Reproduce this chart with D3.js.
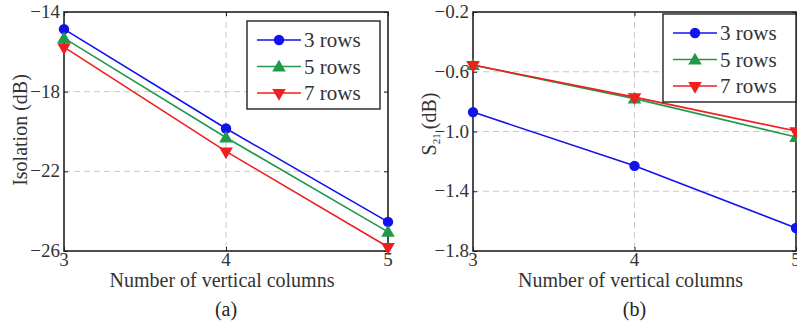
<!DOCTYPE html>
<html>
<head>
<meta charset="utf-8">
<script src="https://cdn.jsdelivr.net/npm/d3@7/dist/d3.min.js"></script>
<style>
  body { margin: 0; background: #fff; }
  svg { display: block; }
</style>
</head>
<body>
<svg id="chart" width="797" height="322">
  <text id="cap-a" font-family="Liberation Serif" font-size="20" fill="#222" text-anchor="middle">(a)</text>
  <text id="cap-b" font-family="Liberation Serif" font-size="20" fill="#222" text-anchor="middle">(b)</text>
</svg>
<script>
// columns on the x axis
const columns = [3, 4, 5];
const seriesNames = ['3 rows', '5 rows', '7 rows'];

// (a) isolation in dB
const isolation3 = [-14.86, -19.85, -24.54];
const isolation5 = [-15.31, -20.3, -25.04];
const isolation7 = [-15.76, -21.0, -25.8];
const isolationTicks = [-14, -18, -22, -26];

// (b) S21 in dB
const s21Rows3 = [-0.87, -1.23, -1.646];
const s21Rows5 = [-0.555, -0.78, -1.037];
const s21Rows7 = [-0.555, -0.77, -0.997];
const s21Ticks = [-0.2, -0.6, -1.0, -1.4, -1.8];

const colors = ['#1212f0', '#22994a', '#f01e1e'];
const symbols = ['circle', 'up', 'down'];
const FONT = 'Liberation Serif';

const svg = d3.select('#chart');

function markerPath(kind) {
  if (kind === 'circle') return d3.symbol(d3.symbolCircle, 85)();
  return d3.symbol(d3.symbolTriangle, 80)();
}

function drawMarker(g, kind, color, x, y) {
  g.append('path')
    .attr('d', markerPath(kind))
    .attr('fill', color)
    .attr('transform', `translate(${x},${y})` + (kind === 'down' ? ' rotate(180)' : (kind === 'up' ? ' translate(0,1)' : '')));
}

function drawPanel(opts) {
  const left = opts.left, right = opts.right, top = 12, bottom = 251;
  const x = d3.scaleLinear().domain([3, 5]).range([left, right]);
  const y = d3.scaleLinear().domain(opts.yDomain).range([top, bottom]);
  const g = svg.append('g');

  // grid
  g.selectAll('.hgrid')
    .data(opts.yTicks.slice(1, -1))
    .enter().append('line')
    .attr('x1', left).attr('x2', right)
    .attr('y1', d => y(d)).attr('y2', d => y(d))
    .attr('stroke', '#c8c8c8').attr('stroke-dasharray', '6,4');
  g.append('line')
    .attr('x1', x(4)).attr('x2', x(4))
    .attr('y1', top).attr('y2', bottom)
    .attr('stroke', '#c8c8c8').attr('stroke-dasharray', '6,4');

  // inner tick marks
  const yAxisL = d3.axisRight(y).tickValues(opts.yTicks).tickSize(4).tickFormat('');
  const yAxisR = d3.axisLeft(y).tickValues(opts.yTicks).tickSize(4).tickFormat('');
  const xAxisB = d3.axisTop(x).tickValues(columns).tickSize(4).tickFormat('');
  const xAxisT = d3.axisBottom(x).tickValues(columns).tickSize(4).tickFormat('');
  [[yAxisL, `translate(${left},0)`], [yAxisR, `translate(${right},0)`],
   [xAxisB, `translate(0,${bottom})`], [xAxisT, `translate(0,${top})`]].forEach(([ax, tr]) => {
    const a = g.append('g').attr('transform', tr).call(ax);
    a.select('.domain').remove();
    a.selectAll('line').attr('stroke', '#222');
  });

  // frame
  g.append('rect')
    .attr('x', left).attr('y', top)
    .attr('width', right - left).attr('height', bottom - top)
    .attr('fill', 'none').attr('stroke', '#222').attr('stroke-width', 1.6);

  // tick labels
  g.selectAll('.ylab')
    .data(opts.yTicks)
    .enter().append('text')
    .attr('x', left - 4).attr('y', d => y(d) + 6)
    .attr('text-anchor', 'end')
    .attr('font-family', FONT)
    .attr('font-size', 19).attr('fill', '#333')
    .text(d => opts.fmt(d));
  g.selectAll('.xlab')
    .data(columns)
    .enter().append('text')
    .attr('x', d => x(d)).attr('y', bottom + 15)
    .attr('text-anchor', 'middle')
    .attr('font-family', FONT)
    .attr('font-size', 19).attr('fill', '#333')
    .text(d => d);

  // series
  const line = d3.line().x((d, i) => x(columns[i])).y(d => y(d));
  opts.series.forEach((vals, k) => {
    g.append('path')
      .attr('d', line(vals))
      .attr('fill', 'none')
      .attr('stroke', colors[k]).attr('stroke-width', 1.6);
    vals.forEach((v, i) => drawMarker(g, symbols[k], colors[k], x(columns[i]), y(v)));
  });

  // axis titles
  g.append('text')
    .attr('x', (left + right) / 2 - 4).attr('y', 287)
    .attr('text-anchor', 'middle')
    .attr('font-family', FONT)
    .attr('font-size', 20).attr('fill', '#333')
    .text('Number of vertical columns');
  svg.select(opts.captionId)
    .attr('x', (left + right) / 2).attr('y', 316);
  const yt = g.append('text')
    .attr('transform', `translate(${opts.yTitleX},${opts.yTitleY}) rotate(-90)`)
    .attr('text-anchor', 'middle')
    .attr('font-family', FONT)
    .attr('font-size', 20).attr('fill', '#333');
  opts.yTitle(yt);

  // legend
  const lg = g.append('g').attr('transform', `translate(${opts.legendX},${opts.legendY})`);
  lg.append('rect')
    .attr('width', 133).attr('height', 88)
    .attr('fill', '#fff').attr('stroke', '#222').attr('stroke-width', 1.4);
  seriesNames.forEach((name, k) => {
    const ly = 19 + k * 26.5;
    lg.append('line')
      .attr('x1', 10).attr('x2', 54)
      .attr('y1', ly).attr('y2', ly)
      .attr('stroke', colors[k]).attr('stroke-width', 1.6);
    drawMarker(lg, symbols[k], colors[k], 32, ly);
    lg.append('text')
      .attr('x', 57).attr('y', ly + 7)
      .attr('font-family', FONT)
      .attr('font-size', 21).attr('fill', '#333')
      .text(name);
  });
}

drawPanel({
  left: 64, right: 388,
  yDomain: [-14, -26],
  yTicks: isolationTicks,
  fmt: d => d3.format('d')(d),
  series: [isolation3, isolation5, isolation7],
  captionId: '#cap-a',
  yTitleX: 27, yTitleY: 130,
  yTitle: t => t.text('Isolation (dB)'),
  legendX: 247, legendY: 21
});

drawPanel({
  left: 473, right: 796,
  yDomain: [-0.2, -1.8],
  yTicks: s21Ticks,
  fmt: d => d3.format('.1f')(d),
  series: [s21Rows3, s21Rows5, s21Rows7],
  captionId: '#cap-b',
  yTitleX: 436, yTitleY: 124,
  yTitle: t => {
    t.append('tspan').text('S');
    t.append('tspan').attr('font-size', 11).attr('dy', 4).text('21');
    t.append('tspan').attr('dy', -4).attr('dx', 4).text('(dB)');
  },
  legendX: 663, legendY: 14
});
</script>
</body>
</html>
